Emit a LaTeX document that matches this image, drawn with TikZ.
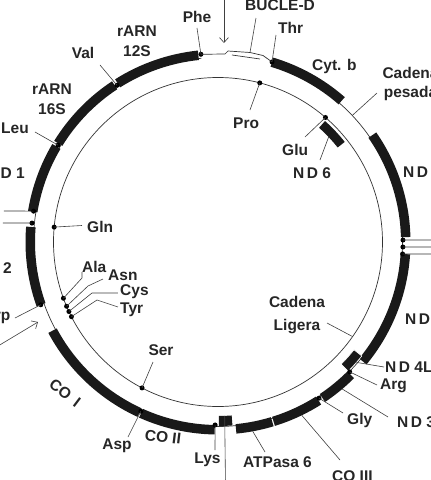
\documentclass[tikz,border=0pt]{standalone}
\usepackage{fontspec}
\setmainfont{Liberation Sans}
\usetikzlibrary{arrows.meta}
\tikzset{
  genefill/.style={fill=black!90},
  thinline/.style={draw=black!80, line width=0.7pt},
  ptr/.style={draw=black!75, line width=0.6pt},
  lbl/.style={font=\bfseries\fontsize{15.5}{20}\selectfont, inner sep=0pt, text=black!85},
  dotc/.style={fill=black},
  pix/.style={shift={(-218,242)}, yscale=-1},
  barb/.style={-{Straight Barb[length=5pt,width=9pt]}},
}
\newcommand{\genebar}[5][]{\fill[genefill,#1] (#2:#4) arc[start angle=#2, end angle=#3, radius=#4] -- (#3:#5) arc[start angle=#3, end angle=#2, radius=#5] -- cycle;}
\newcommand{\dotat}[2]{\coordinate (#1) at #2; \fill[dotc] (#1) circle[radius=2.5];}
\newcommand{\ND}{N\kern2.5pt D}
\begin{document}
\begin{tikzpicture}[x=1pt,y=1pt]
\useasboundingbox (-218,-238) rectangle (213,242);
\clip (-218,-238) rectangle (213,242);
\fill[white] (-218,-238) rectangle (213,242);
% light strand circle
\draw[thinline] (0,0) circle[radius=164.5];
% heavy strand line
\draw[thinline] (95.2:184.5) arc[start angle=95.2, end angle=433.3, radius=184.5];
% genes on the outer band
\genebar{96}{122.3}{183}{192.5}
\genebar{123.4}{148.3}{183}{192.5}
\genebar{149.4}{170.7}{183}{192.5}
\genebar{175.4}{199.5}{183}{192.5}
\genebar{208.2}{245.3}{183}{192.5}
\genebar{245.8}{269}{183}{192.5}
\genebar{270.3}{274.5}{174}{184}
\genebar{275.5}{286.8}{183}{192.5}
\genebar{287.2}{302.4}{183}{192.5}
\genebar{303.8}{315}{183}{192.5}
\genebar{320.5}{356.3}{183}{192.5}
\genebar[draw=white,line width=0.6pt]{315.2}{321.6}{173.5}{183.5}
\genebar{1.5}{34.7}{183}{192.5}
\genebar{48.8}{73.3}{183}{192.5}
\genebar{38.3}{48.5}{152.5}{161.5}
% dots on heavy strand
\dotat{phe}{(95.2:188.5)}
\dotat{val}{(122.8:186.5)}
\dotat{leu}{(148.8:187)}
\dotat{lA}{(170.5:187)}
\dotat{lB}{(174.2:187)}
\dotat{trp}{(199.5:188)}
\dotat{asp}{(245.5:186)}
\dotat{lys}{(269.1:183)}
\dotat{gly}{(302.9:186)}
\dotat{arg}{(315.4:185)}
\dotat{rA}{(0.6:185)}
\dotat{rB}{(-1.55:185)}
\dotat{rC}{(-3.7:185)}
\dotat{thr}{(73.3:188)}
% dots on light strand
\dotat{pro}{(75.3:164.5)}
\dotat{glu}{(49.2:164.5)}
\dotat{gln}{(174.8:164.5)}
\dotat{ala}{(200:164.5)}
\dotat{asn}{(203:164.5)}
\dotat{cys}{(205:164.5)}
\dotat{tyr}{(207:164.5)}
\dotat{ser}{(242.5:164.5)}
% pointer ends on bars and lines
\coordinate (pesadaEnd) at (43.3:184.5);
\coordinate (nd6End) at (43.5:152.5);
\coordinate (atp8End) at (272.2:174);
\coordinate (atp6End) at (280.4:192.5);
\coordinate (co3End) at (295.8:192.5);
\coordinate (nd3End) at (310.2:192.5);
\coordinate (nd4lEnd) at (319:183.5);
\coordinate (ligeraEnd) at (324.9:164.5);
\node[lbl, rotate=-7] (tCO2) at (163-218,242-437) {CO II};
\node[lbl, rotate=-37] (tCO1) at (65-218,242-393) {CO\, I};
\begin{scope}[pix]
% D-loop
\draw[thinline] (phe) -- (225,54) coordinate (dA) -- (228,51) coordinate (dB) -- (250,52.5) coordinate (dC) -- (263,55.5) coordinate (dD) -- (thr);
\draw[thinline] (232,55) coordinate (dE) -- (260,59) coordinate (dF);
% labels
\node[lbl, anchor=base] (tPhe) at (197,23) {Phe};
\node[lbl, align=center, anchor=north] (t12S) at (137,25.5) {rARN\\12S};
\node[lbl, anchor=base] (tVal) at (83,58) {Val};
\node[lbl, align=center, anchor=north] (t16S) at (52,83.5) {rARN\\16S};
\node[lbl, anchor=base west] (tLeu) at (1,133) {Leu};
\node[lbl, anchor=base east] (tND1) at (25,178) {\ND\ 1};
\node[lbl, anchor=base east] (tND2) at (12,273) {\ND\ 2};
\node[lbl, anchor=base east] (tTrp) at (10.5,320) {Trp};
\node[lbl, anchor=base west] (tGln) at (87,232) {Gln};
\node[lbl, anchor=base west] (tAla) at (82,272) {Ala};
\node[lbl, anchor=base west] (tAsn) at (108,280) {Asn};
\node[lbl, anchor=base west] (tCys) at (120,295.5) {Cys};
\node[lbl, anchor=base west] (tTyr) at (120,313.5) {Tyr};
\node[lbl, anchor=base] (tSer) at (161,355) {Ser};
\node[lbl, anchor=base] (tAsp) at (117,449.5) {Asp};
\node[lbl, anchor=base] (tLys) at (207.5,463.5) {Lys};
\node[lbl, anchor=base west] (tATP6) at (243,467) {ATPasa 6};
\node[lbl, anchor=base west] (tCO3) at (332,481.5) {CO III};
\node[lbl, anchor=base west] (tGly) at (347,424.5) {Gly};
\node[lbl, anchor=base west] (tND3) at (397,427) {\ND\ 3};
\node[lbl, anchor=base west] (tArg) at (380,389.5) {Arg};
\node[lbl, anchor=base west] (tND4L) at (385,372) {\ND\ 4L};
\node[lbl, align=center, anchor=north, font=\bfseries\fontsize{15.5}{23}\selectfont] (tLig) at (297,296) {Cadena\\Ligera};
\node[lbl, anchor=base west] (tND4) at (405,324) {\ND\ 4};
\node[lbl, anchor=base west] (tND5) at (403,177) {\ND\ 5};
\node[lbl, anchor=base west] (tND6) at (293,178) {\ND\ 6};
\node[lbl, anchor=base west] (tGlu) at (282,155) {Glu};
\node[lbl, anchor=base west] (tPro) at (233,128) {Pro};
\node[lbl, anchor=base west] (tCytb) at (312,70) {Cyt. b};
\node[lbl, align=center, anchor=north, font=\bfseries\fontsize{15.5}{19}\selectfont] (tPes) at (410.5,67.5) {Cadena\\pesada};
\node[lbl, anchor=base west] (tThr) at (278,33) {Thr};
\node[lbl, anchor=base west] (tBuc) at (245,10) {BUCLE-D};
% pointers
\draw[ptr] (197,28) coordinate (pPhe) -- (phe);
\draw[ptr] (100,65) coordinate (pVal) -- (val);
\draw[ptr] (35,132) coordinate (pLeu) -- (leu);
\draw[ptr] (276,35) coordinate (pThr) -- (thr);
\draw[ptr] (256,18) coordinate (pBuc) -- (250,52.5);
\draw[ptr] (377,93) coordinate (pPes) -- (pesadaEnd);
\draw[ptr] (250,110) coordinate (pPro) -- (pro);
\draw[ptr] (305,137) coordinate (pGlu) -- (glu);
\draw[ptr] (320,160) coordinate (pND6) -- (nd6End);
\draw[ptr] (82,225.5) coordinate (pGln) -- (gln);
\draw[ptr] (82,272) coordinate (pAla) -- (82,278) -- (ala);
\draw[ptr] (103,279) coordinate (pAsn) -- (88,286) -- (asn);
\draw[ptr] (118,293) coordinate (pCys) -- (92,293) -- (cys);
\draw[ptr] (118,307) coordinate (pTyr) -- (97,300) -- (tyr);
\draw[ptr] (15,318) coordinate (pTrp) -- (trp);
\draw[ptr] (153,362) coordinate (pSer) -- (ser);
\draw[ptr] (128,437) coordinate (pAsp) -- (asp);
\draw[ptr] (215,450) coordinate (pLys) -- (lys);
\draw[ptr] (225.5,484) coordinate (pATP8) -- (atp8End);
\draw[ptr] (265,452) coordinate (pATP6) -- (atp6End);
\draw[ptr] (340,460) coordinate (pCO3) -- (co3End);
\draw[ptr] (343,413) coordinate (pGly) -- (gly);
\draw[ptr] (388,417) coordinate (pND3) -- (nd3End);
\draw[ptr] (377,385) coordinate (pArg) -- (arg);
\draw[ptr] (384,367) coordinate (pND4L) -- (nd4lEnd);
\draw[ptr] (327,323) coordinate (pLig) -- (ligeraEnd);
% strand lines leaving the picture
\draw[thinline] (4,211) coordinate (eA) -- (lA);
\draw[thinline] (3,223) coordinate (eB) -- (lB);
\draw[thinline] (rA) -- (434,240) coordinate (eC);
\draw[thinline] (rB) -- (434,247) coordinate (eD);
\draw[thinline] (rC) -- (434,254) coordinate (eE);
% arrows
\draw[ptr, barb] (-2,346) coordinate (aL) -- (38,322) coordinate (aLEnd);
\draw[ptr, barb] (224,-2) coordinate (aT) -- (224,43) coordinate (aTEnd);
\end{scope}
\end{tikzpicture}
\end{document}
